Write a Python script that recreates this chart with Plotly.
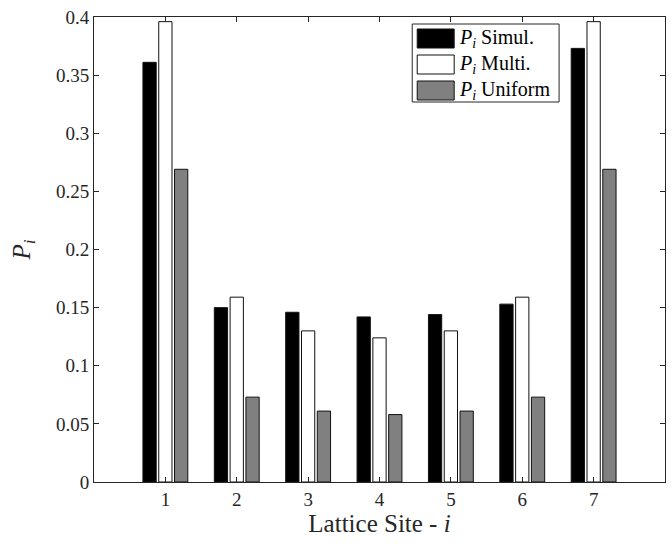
import plotly.graph_objects as go

sites = [1, 2, 3, 4, 5, 6, 7]
p_simul = [0.361, 0.150, 0.146, 0.142, 0.144, 0.153, 0.373]
p_multi = [0.396, 0.159, 0.130, 0.124, 0.130, 0.159, 0.396]
p_uniform = [0.269, 0.073, 0.061, 0.058, 0.061, 0.073, 0.269]
series_names = ["<i>P<sub>i</sub></i> Simul.", "<i>P<sub>i</sub></i> Multi.", "<i>P<sub>i</sub></i> Uniform"]
fills = ["#000000", "#ffffff", "#808080"]
y_ticks = [0, 0.05, 0.1, 0.15, 0.2, 0.25, 0.3, 0.35, 0.4]

FONT = "Liberation Serif"
AX = "#262626"

fig = go.Figure()
for name, vals, col in zip(series_names, [p_simul, p_multi, p_uniform], fills):
    fig.add_trace(go.Bar(x=sites, y=vals, name=name, marker=dict(color=col, line=dict(color="#111111", width=1)),
                         showlegend=False))

W, H = 672, 544
L, R, T, B = 93.5, 665, 17, 482


def px(x):
    return (x - L) / (R - L)


def py(y):
    return (B - y) / (B - T)


shapes = []
annotations = []
# legend box
shapes.append(dict(type="rect", xref="paper", yref="paper", x0=px(412), x1=px(559), y0=py(102), y1=py(24),
                   line=dict(color=AX, width=1), fillcolor="white", layer="above"))
rows = [38.5, 64.5, 90.5]
for r, name, col in zip(rows, series_names, fills):
    shapes.append(dict(type="rect", xref="paper", yref="paper", x0=px(417), x1=px(454), y0=py(r + 9.5), y1=py(r - 9.5),
                       line=dict(color="#111111", width=1), fillcolor=col, layer="above"))
    annotations.append(dict(x=px(457), y=py(r), xref="paper", yref="paper", text=name, showarrow=False,
                            xanchor="left", yanchor="middle", font=dict(family=FONT, size=20, color="black")))

fig.update_layout(
    width=W, height=H,
    margin=dict(l=L, r=W - R, t=T, b=H - B),
    paper_bgcolor="white", plot_bgcolor="white",
    barmode="group", bargap=0.336, bargroupgap=0.16,
    font=dict(family=FONT, size=19, color="#262626"),
    shapes=shapes, annotations=annotations,
    xaxis=dict(range=[0, 8], tickvals=sites, ticktext=[str(s) for s in sites], showline=True, linecolor=AX,
               linewidth=1, mirror="ticks", ticks="inside", ticklen=5, tickcolor=AX, showgrid=False, zeroline=False,
               title=dict(text="Lattice Site - <i>i</i>", font=dict(family=FONT, size=25, color="#262626"), standoff=4),
               tickfont=dict(family=FONT, size=19, color="#262626")),
    yaxis=dict(range=[0, 0.4], tickvals=y_ticks, showline=True, linecolor=AX, linewidth=1, mirror="ticks",
               ticks="inside", ticklen=5, tickcolor=AX, showgrid=False, zeroline=False,
               title=dict(text="<i>P<sub>i</sub></i>", font=dict(family=FONT, size=25, color="#262626"), standoff=18),
               tickfont=dict(family=FONT, size=19, color="#262626")),
)

fig.write_html("out.html")
